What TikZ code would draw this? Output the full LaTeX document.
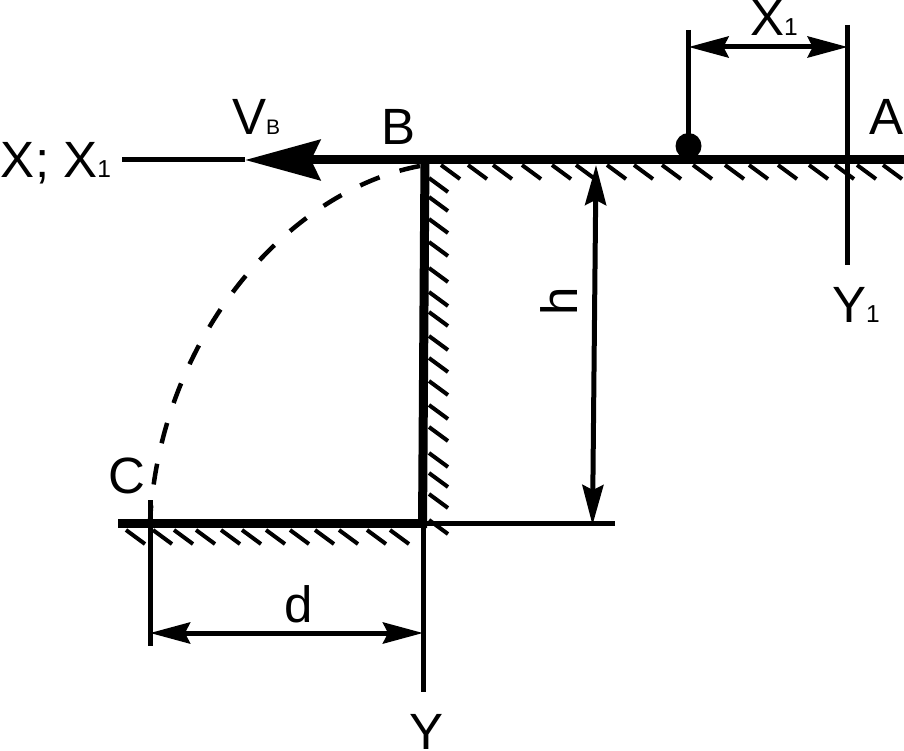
\documentclass[tikz,border=0pt]{standalone}
\usepackage{fontspec}
\setmainfont{Liberation Sans}
\usetikzlibrary{arrows.meta}
\newcommand{\bigf}{\fontsize{51}{51}\selectfont}
\newcommand{\subone}{\fontsize{24.5}{24.5}\selectfont}
\newcommand{\subb}{\fontsize{21}{21}\selectfont}
\tikzset{
  thinln/.style={line width=5pt,black},
  thickln/.style={line width=9pt,black},
  hatchln/.style={line width=4pt,black},
  dimln/.style={thinln,{Stealth[length=40pt,width=21pt,inset=5pt]}-{Stealth[length=40pt,width=21pt,inset=5pt]}},
  vtip/.style={thickln,-{Stealth[length=75pt,width=40pt,inset=9pt]}},
  lbl/.style={inner sep=0pt,outer sep=0pt,anchor=base west,font=\bigf,text=black},
  traj/.style={line width=4.5pt,black,dash pattern=on 21pt off 21pt}
}
\begin{document}
\begin{tikzpicture}[x=1pt,y=-1pt]
\useasboundingbox (0,0) rectangle (904,751);
% named points
\coordinate (xend) at (122,160);
\coordinate (vtipc) at (245,160);
\coordinate (rend) at (904,160);
\coordinate (x1a) at (688.5,47);
\coordinate (x1b) at (847.7,47);
\coordinate (x1top) at (688.5,30);
\coordinate (balltop) at (688.5,146);
\coordinate (y1top) at (847.7,25);
\coordinate (y1bot) at (847.7,265);
\coordinate (wallt) at (425,156);
\coordinate (wallb) at (422.5,528);
\coordinate (lowl) at (118,523.5);
\coordinate (lowr) at (427,523.5);
\coordinate (extr) at (615,523.5);
\coordinate (htop) at (596,165);
\coordinate (hbot) at (592.5,525);
\coordinate (ctop) at (150,500);
\coordinate (cbot) at (150,646);
\coordinate (ytop) at (423,523);
\coordinate (ybot) at (423,692);
\coordinate (da) at (150,633);
\coordinate (db) at (423,633);
\coordinate (ps) at (420,166);
\coordinate (pe) at (150,522);
% hatching
\foreach \x in {441,468,493,522,552,576,607,634,662,693,725,749,778,809,835,857,883}
  \draw[hatchln] (\x,165) -- ++(19,14);
\foreach \y in {178,197,219,242,268,292,312,336,358,381,405,427,453,473,494,520}
  \draw[hatchln] (429,\y) -- ++(19,14);
\foreach \x in {126,153,174,196,221,242,266,290,315,339,367,390}
  \draw[hatchln] (\x,530) -- ++(19,14);
% trajectory
\draw[traj] (ps) .. controls (290,190) and (160,335) .. (pe);
% horizontal lines
\draw[thinln] (xend) -- (vtipc);
\draw[vtip] (rend) -- (vtipc);
\draw[thickln] (wallt) -- (wallb);
\draw[thickln] (lowl) -- (lowr);
\draw[thinln] (lowr) -- (extr);
% verticals
\draw[thinln] (x1top) -- (balltop);
\draw[thinln] (y1top) -- (y1bot);
\draw[thinln] (ctop) -- (cbot);
\draw[thinln] (ytop) -- (ybot);
% ball
\node[circle,fill=black,inner sep=0pt,minimum size=26pt] (ball) at (balltop) {};
% dimensions
\draw[dimln] (x1a) -- (x1b);
\draw[dimln] (htop) -- (hbot);
\draw[dimln] (da) -- (db);
% labels
\node[lbl] (lx1) at (750,36) {X\subone 1};
\node[lbl] (la) at (869,135) {A};
\node[lbl] (ly1) at (832,322) {Y\subone 1};
\node[lbl] (lv) at (232,135) {V\subb B};
\node[lbl] (lb) at (381,145) {B};
\node[lbl] (lxx) at (1,178) {X; X\subone 1};
\node[lbl] (lc) at (108,493) {C};
\node[lbl] (ld) at (284,622) {d};
\node[lbl] (ly) at (409,749.5) {Y};
\node[lbl,rotate=90] (lh) at (577,315) {h};
\end{tikzpicture}
\end{document}
